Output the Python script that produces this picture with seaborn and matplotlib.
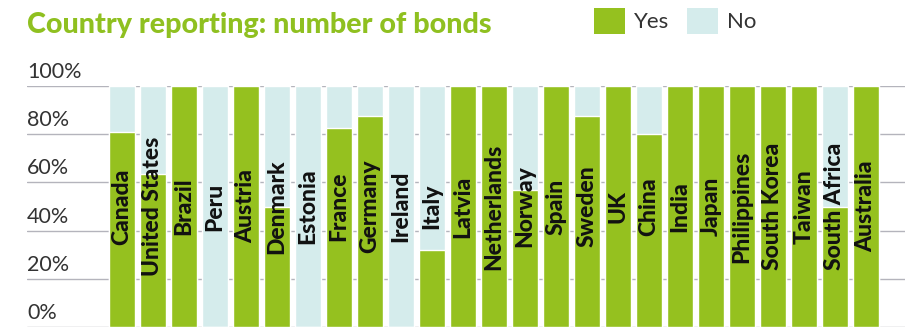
import matplotlib
matplotlib.use("Agg")
import matplotlib.pyplot as plt
from matplotlib.patches import Patch
from matplotlib.transforms import blended_transform_factory, offset_copy
import seaborn as sns
import pandas as pd

countries = ["Canada", "United States", "Brazil", "Peru", "Austria", "Denmark",
             "Estonia", "France", "Germany", "Ireland", "Italy", "Latvia",
             "Netherlands", "Norway", "Spain", "Sweden", "UK", "China", "India",
             "Japan", "Philippines", "South Korea", "Taiwan", "South Africa",
             "Australia"]
yes_pct = [81, 63.5, 100, 0, 100, 50, 0, 82.5, 87.5, 0, 32, 100, 100, 57, 100,
           87.5, 100, 80, 100, 100, 100, 100, 100, 50, 100]
no_pct = [100 - v for v in yes_pct]
y_ticks = [0, 20, 40, 60, 80, 100]

GREEN = "#95c11f"
PALE = "#d5ecec"
GRID = "#b4b4bc"
TEXT = "#333333"

sns.set_theme(style="white")
plt.rcParams["font.family"] = ["Lato", "DejaVu Sans"]

df = pd.DataFrame({"country": countries, "yes": yes_pct, "no": no_pct})
df["total"] = df["yes"] + df["no"]

fig = plt.figure(figsize=(9.16, 3.28), dpi=100)
ax = fig.add_axes([27 / 916, 1 / 328, (905 - 27) / 916, (327 - 86) / 328])

sns.barplot(data=df, x="country", y="total", color=PALE, width=0.86,
            saturation=1, ax=ax, zorder=2)
sns.barplot(data=df, x="country", y="yes", color=GREEN, width=0.86,
            saturation=1, ax=ax, zorder=3)

ax.set_xlim(-3.06, 25.26)
ax.set_ylim(0, 100)
ax.set_xlabel("")
ax.set_ylabel("")
ax.set_xticks([])
ax.set_yticks([])
for s in ax.spines.values():
    s.set_visible(False)

# horizontal gridlines with their labels sitting just above them
trans = blended_transform_factory(ax.transAxes, ax.transData)
lab_trans = offset_copy(trans, fig=fig, x=0, y=8, units="dots")
for t in y_ticks:
    ax.axhline(t, color=GRID, lw=1.0, zorder=1)
    ax.text(0, t, f"{t}%", transform=lab_trans, ha="left", va="baseline",
            fontsize=15.5, fontweight="normal", color=TEXT, clip_on=False)

# country names written up the middle of each bar
for i, name in enumerate(countries):
    ax.text(i, 50, name, rotation=90, ha="center", va="center",
            fontsize=16.5, fontweight="black", color="#111111", zorder=4)

fig.text(27 / 916, 1 - 33 / 328, "Country reporting: number of bonds",
         fontsize=20.7, fontweight="black", color="#8fc020", ha="left",
         va="baseline")

handles = [Patch(facecolor=GREEN, edgecolor="none", label="Yes"),
           Patch(facecolor=PALE, edgecolor="none", label="No")]
fig.legend(handles=handles, loc="upper left",
           bbox_to_anchor=(594 / 916, 1 - 8 / 328), ncol=2, frameon=False,
           fontsize=16, handlelength=1.4, handleheight=1.4,
           handletextpad=0.4, columnspacing=0.8, borderpad=0,
           borderaxespad=0, labelcolor=TEXT)

fig.savefig("out.png", dpi=100)
